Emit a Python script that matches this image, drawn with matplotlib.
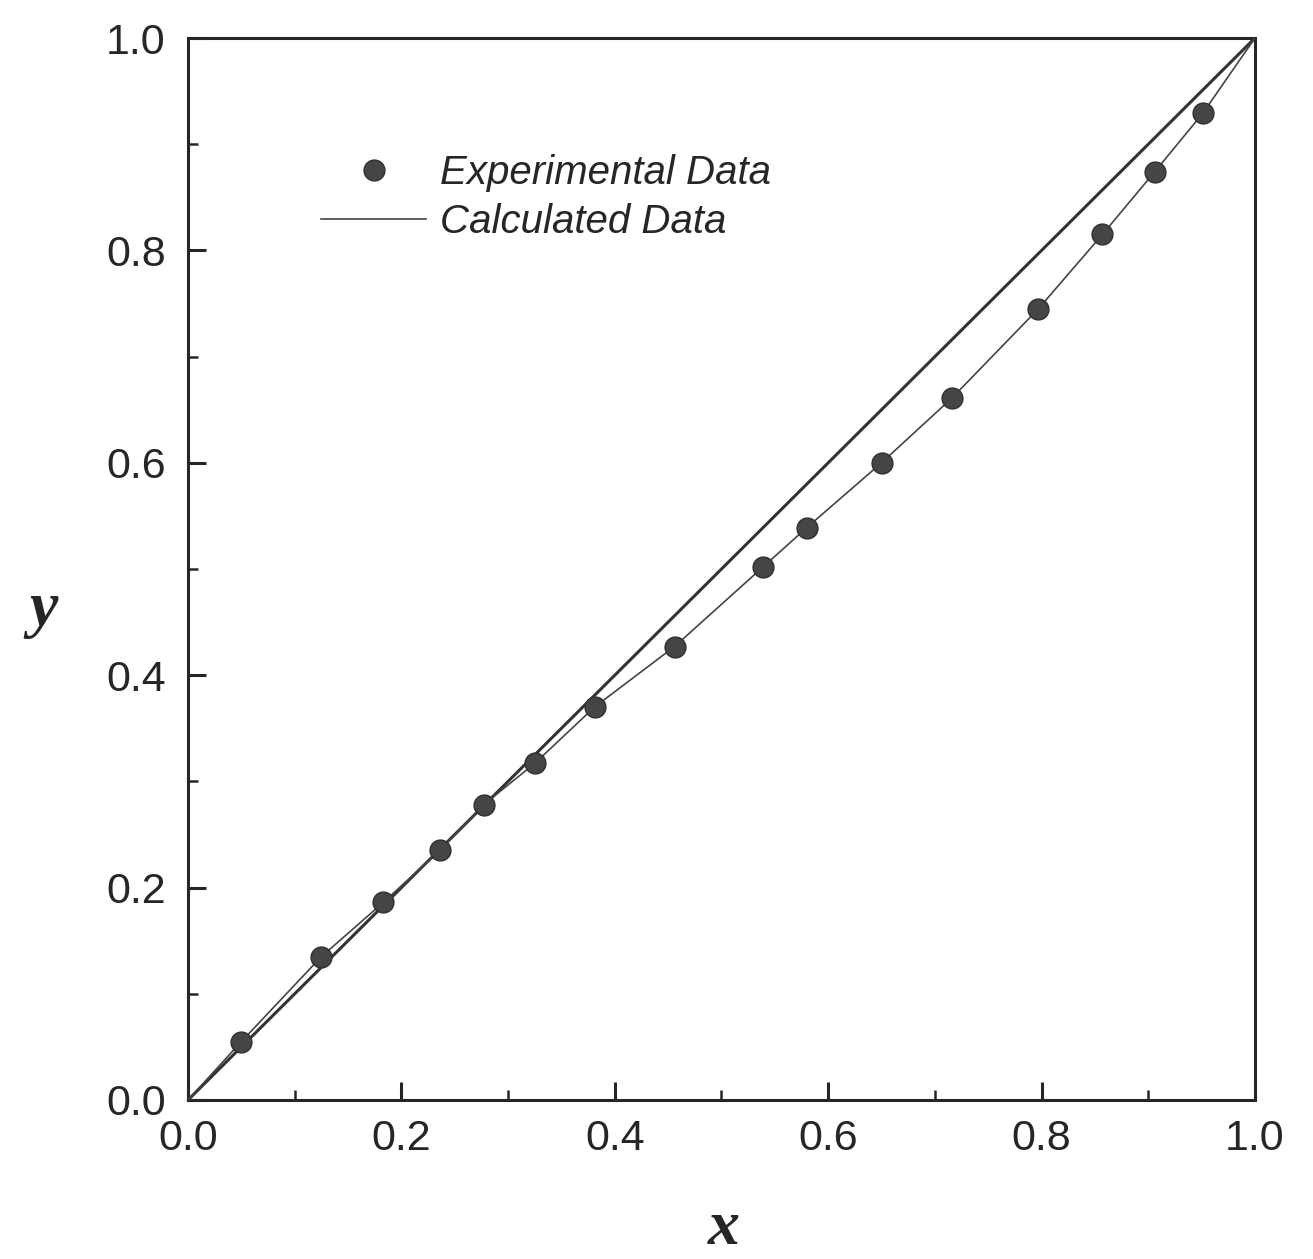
import matplotlib
matplotlib.use("Agg")
import matplotlib.pyplot as plt
from matplotlib.ticker import MultipleLocator

exp_x = [0.050, 0.125, 0.183, 0.236, 0.277, 0.325, 0.381, 0.456, 0.539, 0.580,
         0.650, 0.716, 0.797, 0.857, 0.906, 0.951]
exp_y = [0.055, 0.135, 0.186, 0.235, 0.278, 0.317, 0.370, 0.427, 0.502, 0.539,
         0.600, 0.661, 0.745, 0.815, 0.874, 0.929]

# Calculated curve through the points, anchored at the pure-component ends
calc_x = [0.0] + exp_x + [1.0]
calc_y = [0.0] + exp_y + [1.0]

# Diagonal reference line y = x
diag_x = [0.0, 1.0]
diag_y = [0.0, 1.0]

tick_vals = [0.0, 0.2, 0.4, 0.6, 0.8, 1.0]
tick_labels = ["0.0", "0.2", "0.4", "0.6", "0.8", "1.0"]

fig = plt.figure(figsize=(13.13, 12.59), dpi=100)
ax = fig.add_axes([0.1432, 0.1263, 0.9558 - 0.1432, 0.9698 - 0.1263])

ink = "#262626"
ax.plot(diag_x, diag_y, color="#333333", lw=2.2, zorder=2)
ax.plot(calc_x, calc_y, color="#444444", lw=1.2, zorder=3, label="Calculated Data")
ax.plot(exp_x, exp_y, ls="none", marker="o", ms=15, color="#454545",
        markeredgecolor="#303030", zorder=4, label="Experimental Data")

ax.set_xlim(0, 1)
ax.set_ylim(0, 1)
ax.set_xticks(tick_vals)
ax.set_xticklabels(tick_labels)
ax.set_yticks(tick_vals)
ax.set_yticklabels(tick_labels)
ax.xaxis.set_minor_locator(MultipleLocator(0.1))
ax.yaxis.set_minor_locator(MultipleLocator(0.1))

for s in ax.spines.values():
    s.set_linewidth(2.2)
    s.set_color(ink)

ax.tick_params(which="major", direction="in", length=13, width=2.2, color=ink,
               labelsize=31, labelcolor=ink, top=False, right=False)
ax.tick_params(axis="x", which="major", pad=14)
ax.tick_params(axis="y", which="major", pad=16)
ax.tick_params(which="minor", direction="in", length=7, width=1.8, color=ink,
               top=False, right=False)
for lab in ax.get_xticklabels() + ax.get_yticklabels():
    lab.set_family("Liberation Sans")

ax.set_xlabel("x", family="Liberation Serif", style="italic", weight="bold",
              fontsize=46, color=ink, va="center")
ax.set_ylabel("y", family="Liberation Serif", style="italic", weight="bold",
              fontsize=46, color=ink, rotation=0, va="center", ha="center")
# label positions in axes fraction
ax.xaxis.set_label_coords((724 - 188) / 1067, -(1229 - 1100) / 1062)
ax.yaxis.set_label_coords(-(188 - 44) / 1067, (1100 - 610) / 1062)

handles, labels = ax.get_legend_handles_labels()
leg = ax.legend(handles[::-1], labels[::-1], loc="upper left",
                bbox_to_anchor=(0.11, 0.906), frameon=False,
                prop={"family": "Liberation Sans", "style": "italic", "size": 29},
                handlelength=2.6, handletextpad=0.35, labelspacing=0.28,
                borderaxespad=0)
for t in leg.get_texts():
    t.set_color(ink)

fig.savefig("out.png", dpi=100)
